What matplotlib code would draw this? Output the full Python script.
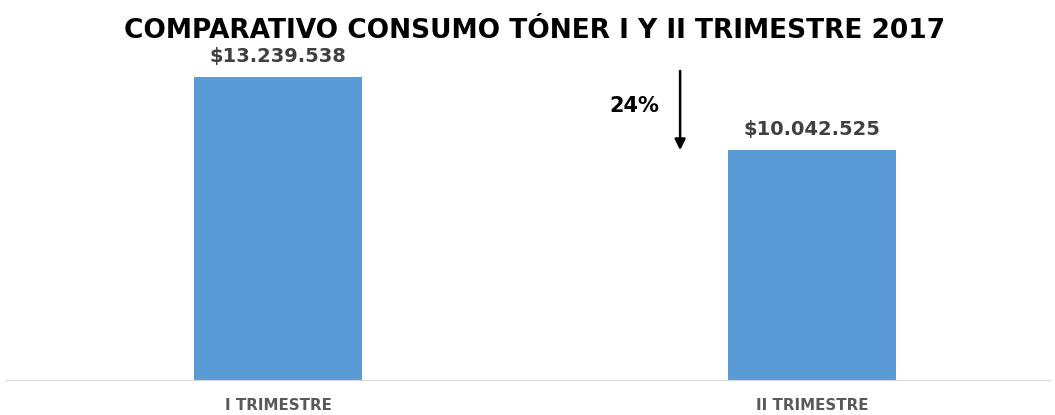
import matplotlib.pyplot as plt

# Consumo de tóner por trimestre (pesos)
trimestres = ['I TRIMESTRE', 'II TRIMESTRE']
consumo = [13239538, 10042525]
etiquetas = ['$13.239.538', '$10.042.525']
variacion = '24%'

plt.rcParams['font.family'] = ['DejaVu Sans']

fig = plt.figure(figsize=(10.55, 4.15), dpi=100)
ax = fig.add_axes([0.0, 0.0843, 1.0, 0.771])

x = list(range(len(trimestres)))
bars = ax.bar(x, consumo, width=0.315, color='#5b9bd5', zorder=2)

for b, txt in zip(bars, etiquetas):
    ax.annotate(txt, (b.get_x() + b.get_width() / 2, b.get_height()),
                xytext=(0, 8), textcoords='offset points', ha='center', va='bottom',
                fontsize=14, fontweight='bold', color='#404040')

# flecha de disminución entre trimestres
ax.annotate('', xy=(0.753, consumo[1]), xytext=(0.753, consumo[0] * 1.02),
            arrowprops=dict(arrowstyle='-|>', color='black', lw=1.8, mutation_scale=16,
                            shrinkA=0, shrinkB=0))
ax.text(0.713, (consumo[0] + consumo[1]) / 2 * 1.03, variacion, ha='right', va='center',
        fontsize=15, fontweight='bold', color='black')

ax.set_xlim(-0.5206, 1.455)
ax.set_ylim(0, 13.98e6)
ax.set_xticks(x)
ax.set_xticklabels(trimestres, fontsize=10.8, fontweight='bold', color='#595959')
ax.tick_params(axis='x', length=0, pad=13)
ax.set_yticks([])
for s in ['top', 'right', 'left']:
    ax.spines[s].set_visible(False)
ax.spines['bottom'].set_color('#d9d9d9')
ax.spines['bottom'].set_bounds(-0.51, 1.445)

fig.text(0.507, 0.925, 'COMPARATIVO CONSUMO TÓNER I Y II TRIMESTRE 2017', ha='center', va='center',
         fontsize=19, fontweight='bold', color='black')

fig.savefig('out.png', dpi=100)
